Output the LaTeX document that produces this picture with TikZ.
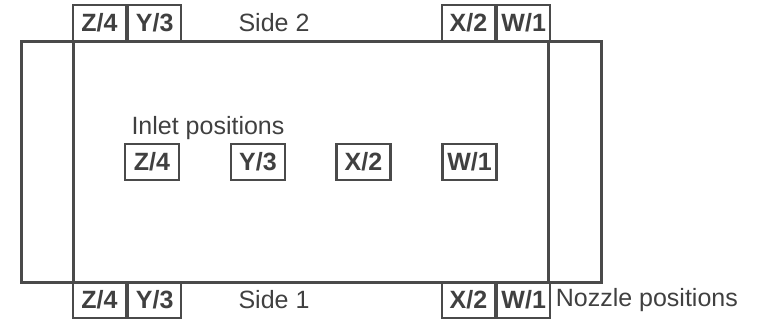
\documentclass[tikz,border=0pt]{standalone}
\usepackage{fontspec}
\setmainfont{Liberation Sans}
\usetikzlibrary{positioning}
\definecolor{linegray}{HTML}{4A4A4A}
\definecolor{textgray}{HTML}{404040}

\begin{document}
\begin{tikzpicture}[x=1pt,y=-1pt,
  every node/.style={text=textgray,font=\fontsize{25}{29}\selectfont},
  posbox/.style={draw=linegray,line width=2.2pt,minimum width=53pt,minimum height=36pt,inner sep=0pt,font=\fontsize{25}{29}\selectfont\bfseries},
  inletbox/.style={posbox,minimum width=54pt}]
\useasboundingbox (0,0) rectangle (776,322);
% tank outline and nozzle walls
\draw[linegray,line width=3pt] (21,41) rectangle (601,282);
\draw[linegray,line width=3pt] (73,41) -- (73,282);
\draw[linegray,line width=3pt] (548,41) -- (548,282);
% nozzle positions, side 2 (top) and side 1 (bottom)
\node[posbox] (tz) at (99.5,23) {Z/4};
\node[posbox,right=0pt of tz] (ty) {Y/3};
\node[posbox] (tx) at (468.5,23) {X/2};
\node[posbox,right=0pt of tx] (tw) {W/1};
\node[posbox] (bz) at (99.5,300) {Z/4};
\node[posbox,right=0pt of bz] (by) {Y/3};
\node[posbox] (bx) at (468.5,300) {X/2};
\node[posbox,right=0pt of bx] (bw) {W/1};
\node (side2) at (274,23) {Side 2};
\node (side1) at (274,300) {Side 1};
\node[right=1pt of bw] (nozzle) {Nozzle positions};
% inlet positions
\foreach \lbl/\x/\nm in {{Z/4}/152/iz,{Y/3}/258/iy,{X/2}/363.5/ix,{W/1}/469.5/iw}
  \node[inletbox] (\nm) at (\x,162) {\lbl};
\node[anchor=west] (inlet) at (128,128) {Inlet positions};
\end{tikzpicture}
\end{document}
